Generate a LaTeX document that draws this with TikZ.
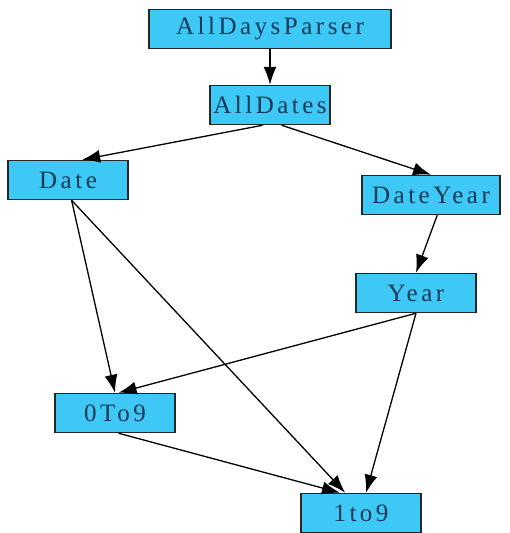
\documentclass[tikz,border=0pt]{standalone}
\usepackage{fontspec}
\setmainfont[LetterSpace=14]{Liberation Serif}
\usepackage{tikz}
\usetikzlibrary{arrows.meta}
\definecolor{boxfill}{RGB}{62,200,246}
\definecolor{boxtext}{RGB}{24,56,86}
\begin{document}
\begin{tikzpicture}[x=1pt,y=-1pt]
\tikzset{rule/.style = {shape=rectangle,draw=black!85,line width=1.5pt,fill=boxfill,text=boxtext,
  font=\fontsize{25}{28}\selectfont,inner sep=0pt,minimum width=120pt,minimum height=39pt}}
\tikzset{edge/.style = {-{Latex[length=18pt,width=13pt]},line width=1.3pt}}
\useasboundingbox (0,0) rectangle (510,533);
\node[rule,minimum width=242pt] (adp) at (270,29) {AllDaysParser};
\node[rule] (ad) at (270,105) {AllDates};
\node[rule] (date) at (68,180) {Date};
\node[rule,minimum width=138pt] (dy) at (431,195) {DateYear};
\node[rule] (year) at (416,293) {Year};
\node[rule] (zero) at (115,413) {0To9};
\node[rule] (one) at (361,513) {1to9};
\draw[edge] (adp) to (ad);
\draw[edge] (ad.250) to (date.55);
\draw[edge] (ad.-60) to (dy.north);
\draw[edge] (dy.-73) to (year.north);
\draw[edge] (date.-80) to (zero.north);
\draw[edge] (date.-80) to (one.128);
\draw[edge] (year.south) to (zero.80);
\draw[edge] (year.south) to (one.76);
\draw[edge] (zero.-80) to (one.136);
\end{tikzpicture}
\end{document}
